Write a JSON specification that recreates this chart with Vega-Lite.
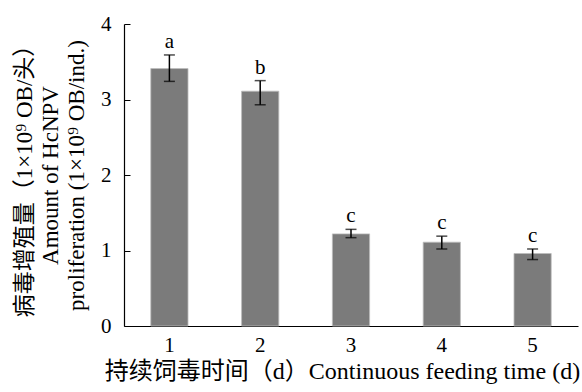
{
  "$schema": "https://vega.github.io/schema/vega-lite/v6.json",
  "width": 454,
  "height": 302,
  "autosize": "none",
  "padding": {"left": 124, "top": 24, "right": 4, "bottom": 66},
  "background": "white",
  "config": {
    "view": {"stroke": null},
    "font": "Liberation Serif, Noto Sans CJK SC",
    "axis": {"labelFont": "Liberation Serif", "titleFont": "Liberation Serif, Noto Sans CJK SC", "labelColor": "black", "titleColor": "black", "titleFontWeight": "normal", "domainColor": "black", "tickColor": "black", "grid": false}
  },
  "data": {
    "values": [
      {"day": "1", "mean": 3.41, "lo": 3.24, "hi": 3.59, "sig": "a"},
      {"day": "2", "mean": 3.11, "lo": 2.93, "hi": 3.25, "sig": "b"},
      {"day": "3", "mean": 1.22, "lo": 1.17, "hi": 1.28, "sig": "c"},
      {"day": "4", "mean": 1.11, "lo": 1.02, "hi": 1.19, "sig": "c"},
      {"day": "5", "mean": 0.96, "lo": 0.88, "hi": 1.02, "sig": "c"}
    ]
  },
  "encoding": {
    "x": {
      "field": "day", "type": "nominal", "sort": null,
      "scale": {"paddingInner": 0.59, "paddingOuter": 0.295},
      "axis": {"title": "持续饲毒时间（d）Continuous feeding time (d)", "labelAngle": 0, "ticks": false, "labelFontSize": 21, "labelPadding": 8, "titleFontSize": 24, "titlePadding": 4, "titleX": 218, "domainWidth": 1.2}
    }
  },
  "layer": [
    {
      "mark": {"type": "bar", "color": "#7b7b7b", "stroke": "#bdbdbd", "strokeWidth": 0.8},
      "encoding": {
        "y": {
          "field": "mean", "type": "quantitative",
          "scale": {"domain": [0, 4], "nice": false},
          "axis": {
            "values": [0, 1, 2, 3, 4], "format": "d",
            "title": ["病毒增殖量（1×10⁹ OB/头）", "Amount of HcNPV", "proliferation (1×10⁹ OB/ind.)"],
            "titleFontSize": 23, "titleLineHeight": 26, "labelFontSize": 21, "labelPadding": 19,
            "tickSize": -6, "titlePadding": 12, "domainWidth": 1.2
          }
        }
      }
    },
    {
      "mark": {"type": "rule", "color": "black", "strokeWidth": 1.5},
      "encoding": {"y": {"field": "lo", "type": "quantitative"}, "y2": {"field": "hi"}}
    },
    {
      "mark": {"type": "tick", "color": "black", "size": 11, "thickness": 1.5},
      "encoding": {"y": {"field": "lo", "type": "quantitative"}}
    },
    {
      "mark": {"type": "tick", "color": "black", "size": 11, "thickness": 1.5},
      "encoding": {"y": {"field": "hi", "type": "quantitative"}}
    },
    {
      "mark": {"type": "text", "fontSize": 21, "baseline": "alphabetic", "dy": -7, "font": "Liberation Serif", "color": "black"},
      "encoding": {"y": {"field": "hi", "type": "quantitative"}, "text": {"field": "sig"}}
    }
  ]
}
